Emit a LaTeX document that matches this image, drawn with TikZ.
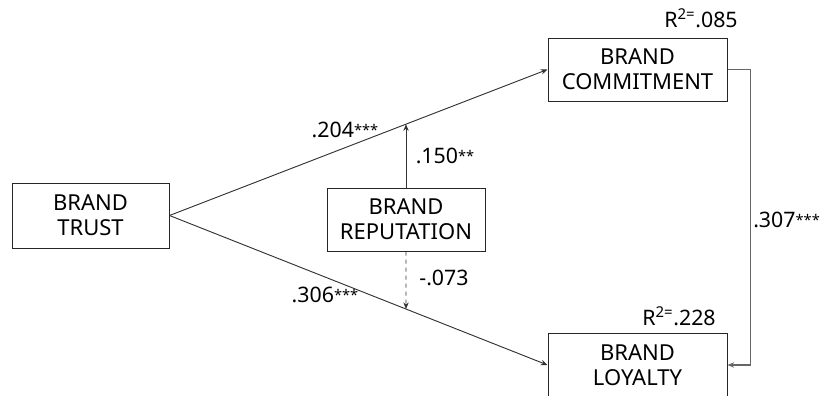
\documentclass[tikz,border=0pt]{standalone}
\usepackage{fontspec}
\setmainfont{Noto Sans}
\usetikzlibrary{arrows.meta}
\newcommand{\sig}[1]{\raisebox{1.5pt}{\fontsize{11}{11}\selectfont #1}}

\begin{document}
\begin{tikzpicture}[x=0.75pt,y=-0.75pt]
\useasboundingbox (0,0) rectangle (826,396);
\begin{scope}[every node/.style={rectangle,draw=black!85,line width=0.75pt,align=center,inner sep=0pt,
              font=\fontsize{16.5}{19}\selectfont}]
    \node[minimum width=117.75pt,minimum height=48.75pt] (T) at (90.5,215.5) {BRAND\\TRUST};
    \node[minimum width=134.25pt,minimum height=47.25pt] (C) at (637.5,69.5) {BRAND\\COMMITMENT};
    \node[minimum width=118.5pt,minimum height=47.25pt] (R) at (406,219.5) {BRAND\\REPUTATION};
    \node[minimum width=134.25pt,minimum height=48pt] (L) at (637.5,365) {BRAND\\LOYALTY};
\end{scope}
\coordinate (up) at (intersection of T.east--C.west and R.north--R.south);
\coordinate (dn) at (intersection of T.east--L.west and R.north--R.south);
\begin{scope}[>={Stealth[length=5pt,width=4pt]},
              every edge/.style={draw=black!80,line width=0.7pt}]
    \path [->] (T.east) edge (C.west);
    \path [->] (T.east) edge (L.west);
    \path [->] (R.north) edge (up);
    \path [->] (R.south) edge[dashed] (dn);
    \draw [->,draw=black!60,line width=0.8pt] (C.east) -- ++(23,0) |- (L.east);
\end{scope}
\begin{scope}[every node/.style={font=\fontsize{16}{18}\selectfont,inner sep=0pt}]
    \node (r1) at (701,18) {R\textsuperscript{2=}.085};
    \node (r2) at (679,316) {R\textsuperscript{2=}.228};
    \node (a) at (345,130) {.204\sig{***}};
    \node (b) at (325,295) {.306\sig{***}};
    \node (c) at (445,156) {.150\sig{**}};
    \node (d) at (444,278) {-.073};
    \node[anchor=west] (e) at (753,220) {.307\sig{***}};
\end{scope}
\end{tikzpicture}
\end{document}
